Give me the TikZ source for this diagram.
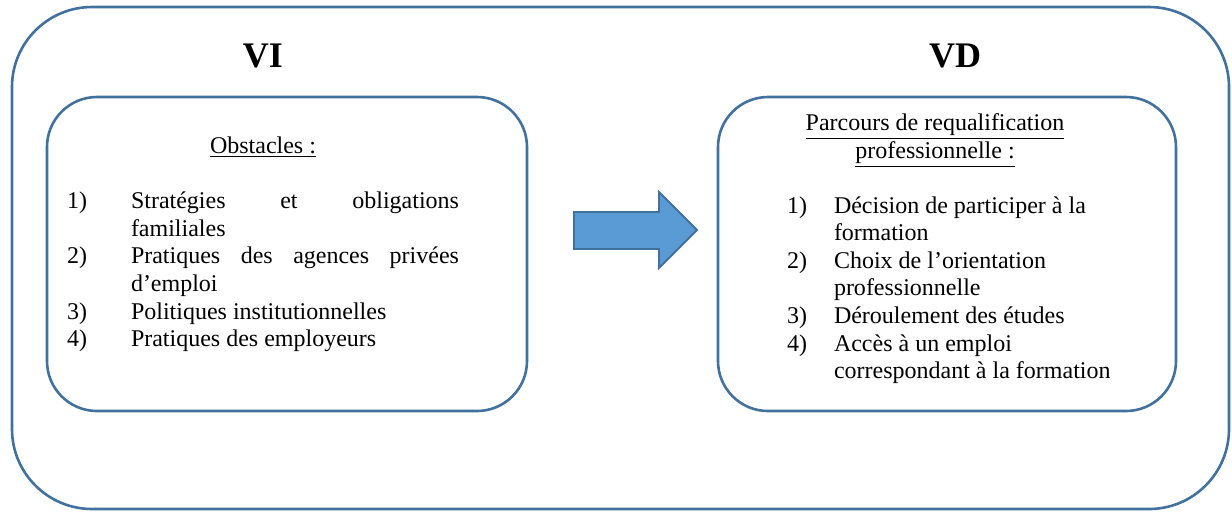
\documentclass[tikz,border=0pt]{standalone}
\usepackage{fontspec}
\setmainfont{Liberation Serif}
\definecolor{boxline}{HTML}{41719C}
\definecolor{arrowfill}{HTML}{5B9BD5}
\begin{document}
\begin{tikzpicture}[x=0.5pt,y=-0.5pt,
  frame/.style={draw=boxline,line width=1.3pt},
  txt/.style={inner sep=0pt,outer sep=0pt,anchor=base west,font=\fontsize{12pt}{13.8pt}\selectfont},
  ctxt/.style={txt,anchor=base},
  head/.style={inner sep=0pt,anchor=base,font=\fontsize{18pt}{21pt}\selectfont\bfseries}]
\useasboundingbox (0,0) rectangle (1232,511);
% outer frame
\draw[frame,rounded corners=40pt] (12,7) rectangle (1229,509);
% inner boxes
\draw[frame,rounded corners=25pt] (47,97) rectangle (527,411);
\draw[frame,rounded corners=25pt] (718,97) rectangle (1176,411);
% headings
\node[head] (vi) at (263,67) {VI};
\node[head] (vd) at (955,67) {VD};
% arrow
\draw[draw=boxline,fill=arrowfill,line width=0.9pt,line join=miter]
  (574,212) -- (659,212) -- (659,192) -- (697,230) -- (659,268) -- (659,249) -- (574,249) -- cycle;
% left box text
\node[ctxt] (obs) at (263,153) {\underline{Obstacles :}};
\node[txt] (n1) at (67,208) {1)};
\node[txt] (t1a) at (131,208) {\makebox[164pt][s]{Stratégies et obligations}};
\node[txt] (t1b) at (131,236) {familiales};
\node[txt] (n2) at (67,263) {2)};
\node[txt] (t2a) at (131,263) {\makebox[164pt][s]{Pratiques des agences privées}};
\node[txt] (t2b) at (131,291) {d’emploi};
\node[txt] (n3) at (67,319) {3)};
\node[txt] (t3) at (131,319) {Politiques institutionnelles};
\node[txt] (n4) at (67,346) {4)};
\node[txt] (t4) at (131,346) {Pratiques des employeurs};
% right box text
\node[ctxt] (par1) at (935,130) {\underline{Parcours de requalification}};
\node[ctxt] (par2) at (935,158) {\underline{professionnelle :}};
\node[txt] (m1) at (787,213) {1)};
\node[txt] (r1a) at (834,213) {Décision de participer à la};
\node[txt] (r1b) at (834,240) {formation};
\node[txt] (m2) at (787,268) {2)};
\node[txt] (r2a) at (834,268) {Choix de l’orientation};
\node[txt] (r2b) at (834,295) {professionnelle};
\node[txt] (m3) at (787,323) {3)};
\node[txt] (r3) at (834,323) {Déroulement des études};
\node[txt] (m4) at (787,351) {4)};
\node[txt] (r4a) at (834,351) {Accès à un emploi};
\node[txt] (r4b) at (834,378) {correspondant à la formation};
\end{tikzpicture}
\end{document}
